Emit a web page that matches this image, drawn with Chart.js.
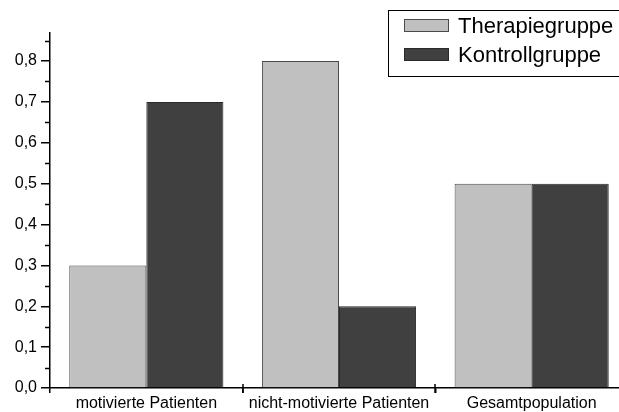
<!DOCTYPE html>
<html>
<head>
<meta charset="utf-8">
<script src="https://cdn.jsdelivr.net/npm/chart.js@4"></script>
<style>
  html, body { margin: 0; padding: 0; background: #fff; overflow: hidden; }
  #wrap { width: 619px; height: 412px; overflow: hidden; }
</style>
</head>
<body>
<div id="wrap"><canvas id="grafico" width="640" height="412"></canvas></div>
<script>
var kategorien = ['motivierte Patienten', 'nicht-motivierte Patienten', 'Gesamtpopulation'];
var therapiegruppe = [0.3, 0.8, 0.5];
var kontrollgruppe = [0.7, 0.2, 0.5];
var yTicks = [0, 0.1, 0.2, 0.3, 0.4, 0.5, 0.6, 0.7, 0.8];

// Legende mit Rahmen + kleine Striche (Nebenticks, Kategorie-Trenner)
var extraPlugin = {
    id: 'extra',
    afterDraw: function (chart) {
        var ctx = chart.ctx;
        var y = chart.scales.y;
        var x = chart.scales.x;
        var area = chart.chartArea;
        ctx.save();
        ctx.strokeStyle = '#000';
        ctx.lineWidth = 1.5;

        // Nebenticks bei 0,05-Schritten
        for (var v = 0.05; v < y.max; v += 0.1) {
            var py = Math.round(y.getPixelForValue(v)) + 0.5;
            ctx.beginPath();
            ctx.moveTo(area.left - 5, py);
            ctx.lineTo(area.left, py);
            ctx.stroke();
        }

        // Trenner zwischen Kategorien, über die Achse hinaus
        for (var i = 0; i < kategorien.length - 1; i++) {
            var px = Math.round((x.getPixelForValue(i) + x.getPixelForValue(i + 1)) / 2);
            ctx.beginPath();
            ctx.moveTo(px, area.bottom - 4);
            ctx.lineTo(px, area.bottom + 5);
            ctx.stroke();
        }

        // Legende
        var lx = 388.5, ly = 10.5, lw = 260, lh = 66;
        ctx.fillStyle = '#fff';
        ctx.fillRect(lx, ly, lw, lh);
        ctx.lineWidth = 1;
        ctx.strokeStyle = '#000';
        ctx.strokeRect(lx, ly, lw, lh);

        var zeilen = [25.5, 54.5];
        chart.data.datasets.forEach(function (ds, k) {
            ctx.fillStyle = ds.backgroundColor;
            ctx.fillRect(404, zeilen[k] - 6.5, 45, 13);
            ctx.strokeStyle = ds.borderColor;
            ctx.strokeRect(404.5, zeilen[k] - 6, 44, 12);
            ctx.fillStyle = '#000';
            ctx.font = '22px "Liberation Sans", Arial, sans-serif';
            ctx.textBaseline = 'middle';
            ctx.textAlign = 'left';
            ctx.fillText(ds.label, 458, zeilen[k] + 1);
        });
        ctx.restore();
    }
};

var dados = {
    labels: kategorien,
    datasets: [{
        label: 'Therapiegruppe',
        data: therapiegruppe,
        backgroundColor: '#c0c0c0',
        borderColor: '#4a4a4a',
        borderWidth: 1
    }, {
        label: 'Kontrollgruppe',
        data: kontrollgruppe,
        backgroundColor: '#404040',
        borderColor: '#2a2a2a',
        borderWidth: 1
    }]
};

var config = {
    type: 'bar',
    data: dados,
    options: {
        responsive: false,
        animation: false,
        categoryPercentage: 0.8,
        barPercentage: 1.0,
        layout: {
            padding: { top: 32.4, right: 12, left: 0, bottom: 0 }
        },
        plugins: {
            legend: { display: false },
            tooltip: { enabled: false }
        },
        scales: {
            x: {
                offset: true,
                afterFit: function (s) { s.height = 24; },
                grid: {
                    offset: true,
                    drawOnChartArea: false,
                    drawTicks: true,
                    tickLength: 5,
                    tickColor: '#000',
                    lineWidth: 1.5
                },
                border: { display: true, color: '#000', width: 1.5 },
                ticks: {
                    color: '#000',
                    padding: 1,
                    maxRotation: 0,
                    autoSkip: false,
                    font: { family: '"Liberation Sans", Arial, sans-serif', size: 16 }
                }
            },
            y: {
                min: 0,
                max: 0.87,
                afterFit: function (s) { s.width = 50; },
                grid: {
                    drawOnChartArea: false,
                    drawTicks: true,
                    tickLength: 9,
                    tickColor: '#000',
                    lineWidth: 1.5
                },
                border: { display: true, color: '#000', width: 1.5 },
                afterBuildTicks: function (s) {
                    s.ticks = yTicks.map(function (v) { return { value: v }; });
                },
                ticks: {
                    color: '#000',
                    padding: 4,
                    font: { family: '"Liberation Sans", Arial, sans-serif', size: 16 },
                    callback: function (v) { return Number(v).toFixed(1).replace('.', ','); }
                }
            }
        }
    },
    plugins: [extraPlugin]
};

var grafico = new Chart(document.getElementById('grafico'), config);
</script>
</body>
</html>
